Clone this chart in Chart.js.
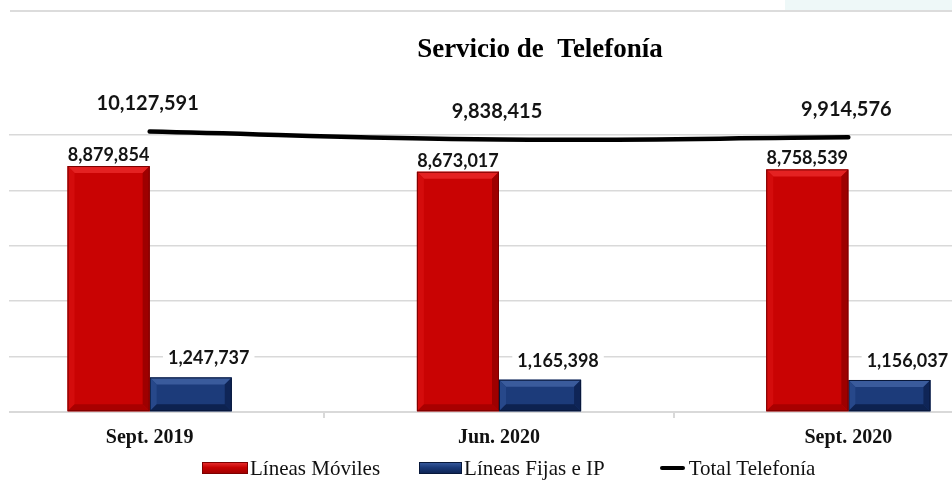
<!DOCTYPE html>
<html>
<head>
<meta charset="utf-8">
<script src="https://cdn.jsdelivr.net/npm/chart.js@4"></script>
<style>
  html, body { margin: 0; padding: 0; background: #fff; overflow: hidden; width: 952px; height: 493px; }
  #wrap { position: absolute; left: -25px; top: 0; width: 1130px; height: 493px; }
  .topband { position: absolute; left: 785px; top: 0; width: 167px; height: 10px; background: #eef8f8; }
  .topline { position: absolute; left: 10px; top: 10px; width: 942px; height: 2px; background: #dcdcdc; }
  .leftmask { position: absolute; left: 0; top: 120px; width: 9px; height: 300px; background: #fff; }
  #legend { position: absolute; top: 456px; left: 202px; height: 24px; display: flex; align-items: center;
            font-family: 'Liberation Serif', serif; font-size: 21px; color: #111; white-space: nowrap; }
  #legend .sw { display: inline-block; box-sizing: border-box; }
  #legend .red { width: 46px; height: 12px; background: linear-gradient(#e42a2a, #c60202 45%, #a30000); border: 1px solid #7d0000; }
  #legend .blue { width: 43px; height: 12px; background: linear-gradient(#35579a, #1b3a78 45%, #0f2556); border: 1px solid #08183a; }
  #legend .line { width: 25px; height: 4px; background: #000; border-radius: 2px; }
</style>
</head>
<body>
<div class="topband"></div>
<div class="topline"></div>
<div id="wrap"><canvas id="telefoniaChart"></canvas></div>
<div class="leftmask"></div>
<div id="legend"></div>
<script>
const categories = ['Sept. 2019', 'Jun. 2020', 'Sept. 2020'];
const lineasMoviles = [8879854, 8673017, 8758539];
const lineasFijas = [1247737, 1165398, 1156037];
const totalTelefonia = [10127591, 9838415, 9914576];
const seriesNames = ['Líneas Móviles', 'Líneas Fijas e IP', 'Total Telefonía'];
const yTicks = [0, 2000000, 4000000, 6000000, 8000000, 10000000];

// colours for the bevelled bars
const bevelColors = {
    0: { face: '#c90303', top: '#e42222', left: '#d40c0c', right: '#9e0000', bottom: '#a80000', edge: '#7a0000' },
    1: { face: '#1c3b7a', top: '#3a5b9c', left: '#27488a', right: '#0f2557', bottom: '#0d2250', edge: '#08173a' }
};

// where each dataset's value labels go, relative to the element
const labelOpts = {
    0: { font: 'bold 18px Lato', dx: 0, dy: -11, bg: false },
    1: { font: 'bold 18px Lato', dx: 18, dy: -19, bg: true },
    2: { font: 'bold 20px Lato', dx: -2, dy: -28, bg: false }
};

const bevelPlugin = {
    id: 'bevel',
    afterDatasetDraw(chart, args) {
        const c = bevelColors[args.index];
        if (!c) return;
        const ctx = chart.ctx;
        ctx.save();
        args.meta.data.forEach(el => {
            const p = el.getProps(['x', 'y', 'base', 'width'], true);
            const l = p.x - p.width / 2, r = p.x + p.width / 2, t = p.y, b = p.base;
            const s = Math.min(7, (b - t) / 2);
            const poly = (pts, col) => {
                ctx.beginPath();
                ctx.moveTo(pts[0][0], pts[0][1]);
                pts.slice(1).forEach(q => ctx.lineTo(q[0], q[1]));
                ctx.closePath();
                ctx.fillStyle = col;
                ctx.fill();
            };
            poly([[l, t], [r, t], [r - s, t + s], [l + s, t + s]], c.top);
            poly([[l, t], [l + s, t + s], [l + s, b - s], [l, b]], c.left);
            poly([[r, t], [r, b], [r - s, b - s], [r - s, t + s]], c.right);
            poly([[l, b], [l + s, b - s], [r - s, b - s], [r, b]], c.bottom);
            ctx.strokeStyle = c.edge;
            ctx.lineWidth = 1;
            ctx.strokeRect(l + 0.5, t + 0.5, p.width - 1, b - t - 1);
        });
        ctx.restore();
    }
};

const valueLabels = {
    id: 'valueLabels',
    afterDatasetsDraw(chart) {
        const ctx = chart.ctx;
        ctx.save();
        chart.data.datasets.forEach((ds, i) => {
            const opt = labelOpts[i];
            chart.getDatasetMeta(i).data.forEach((el, j) => {
                const text = ds.data[j].toLocaleString('en-US');
                const x = el.x + opt.dx, y = el.y + opt.dy;
                ctx.font = opt.font;
                if (opt.bg) {
                    const w = ctx.measureText(text).width;
                    ctx.fillStyle = '#fff';
                    ctx.fillRect(x - w / 2 - 5, y - 11, w + 10, 22);
                }
                ctx.fillStyle = '#141414';
                ctx.textAlign = 'center';
                ctx.textBaseline = 'middle';
                ctx.fillText(text, x, y);
            });
        });
        ctx.restore();
    }
};

const ctx = document.getElementById('telefoniaChart').getContext('2d');
new Chart(ctx, {
    data: {
        labels: categories,
        datasets: [
            {
                type: 'bar',
                label: seriesNames[0],
                data: lineasMoviles,
                backgroundColor: bevelColors[0].face,
                categoryPercentage: 0.47,
                barPercentage: 1,
                order: 1
            },
            {
                type: 'bar',
                label: seriesNames[1],
                data: lineasFijas,
                backgroundColor: bevelColors[1].face,
                categoryPercentage: 0.47,
                barPercentage: 1,
                order: 1
            },
            {
                type: 'line',
                label: seriesNames[2],
                data: totalTelefonia,
                borderColor: '#000',
                borderWidth: 4.5,
                borderCapStyle: 'round',
                pointRadius: 0,
                tension: 0.4,
                fill: false,
                clip: false,
                order: 0
            }
        ]
    },
    options: {
        responsive: true,
        maintainAspectRatio: false,
        animation: false,
        layout: { padding: { left: 0, right: 0, top: 0, bottom: 35 } },
        plugins: {
            legend: { display: false },
            tooltip: { enabled: false },
            title: {
                display: true,
                text: 'Servicio de  Telefonía',
                color: '#000',
                font: { family: 'Liberation Serif', size: 27, weight: 'bold', lineHeight: 1.2 },
                padding: { top: 34, bottom: 68.6 }
            }
        },
        scales: {
            x: {
                grid: { drawOnChartArea: false, drawTicks: true, tickLength: 6, color: '#d9d9d9', lineWidth: 2 },
                border: { color: '#d9d9d9', width: 2 },
                ticks: {
                    color: '#111',
                    padding: 8,
                    font: { family: 'Liberation Serif', size: 20, weight: 'bold' }
                }
            },
            y: {
                min: yTicks[0],
                max: yTicks[yTicks.length - 1],
                afterBuildTicks: axis => { axis.ticks = yTicks.map(v => ({ value: v })); },
                ticks: { display: false },
                grid: { color: '#d9d9d9', lineWidth: 1.6, drawTicks: false },
                border: { display: false }
            },
            // empty axis on the right, only to keep space so the plot runs off the picture
            spacer: {
                position: 'right',
                min: 0,
                max: 1,
                ticks: { display: false },
                grid: { display: false },
                border: { display: false },
                afterFit: axis => { axis.width = 82; }
            }
        }
    },
    plugins: [bevelPlugin, valueLabels]
});

// legend drawn as html, spaced like the original
const legendEl = document.getElementById('legend');
const swatches = ['red', 'blue', 'line'];
const gapsBefore = [0, 39, 55];
seriesNames.forEach((name, i) => {
    const sw = document.createElement('span');
    sw.className = 'sw ' + swatches[i];
    sw.style.marginLeft = gapsBefore[i] + 'px';
    sw.style.marginRight = (i === 2 ? 4 : 2) + 'px';
    const txt = document.createElement('span');
    txt.textContent = name;
    legendEl.appendChild(sw);
    legendEl.appendChild(txt);
});
</script>
</body>
</html>
